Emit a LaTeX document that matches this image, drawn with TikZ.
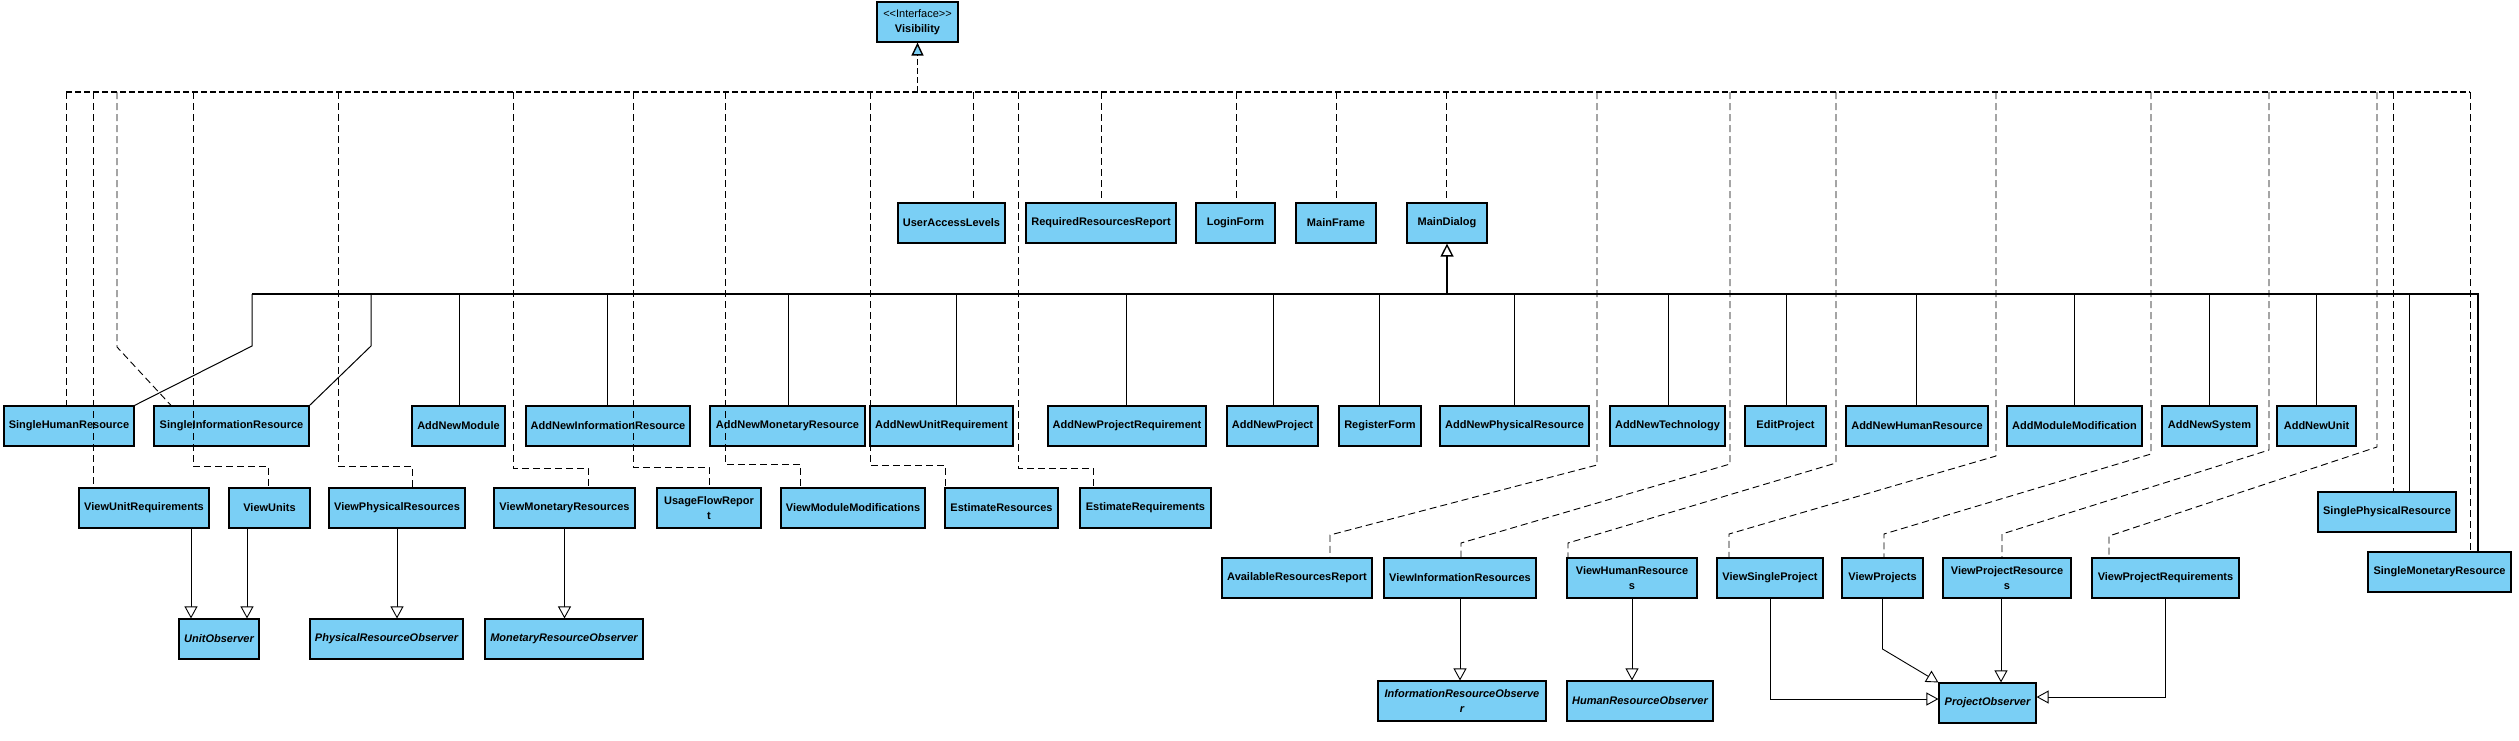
\documentclass[tikz,border=0pt]{standalone}
\usepackage{fontspec}
\setmainfont{Liberation Sans}
\usetikzlibrary{arrows.meta}
\definecolor{clsblue}{RGB}{122,207,245}
\tikzset{
    cls/.style={draw, fill=clsblue, line width=1.2pt, inner sep=1pt, minimum height=40pt,
        align=center, font=\bfseries\fontsize{11}{15.5}\selectfont},
    abscls/.style={cls, font=\bfseries\itshape\fontsize{11}{15.5}\selectfont},
    real/.style={line width=0.9pt, dash pattern=on 7pt off 4pt},
    gen/.style={line width=0.9pt, -{Triangle[length=12pt, width=13pt, fill=white]}},
}

\begin{document}
\begin{tikzpicture}[>=Stealth, x=1pt, y=-1pt]
        \useasboundingbox (0,0) rectangle (2519,740);
        \node[cls, minimum width=81pt] (vis) at (917.5,22) {\mdseries <{}<Interface>{}>\\\bfseries Visibility};
        % row 1
        \foreach \n/\x/\w/\t in {ual/951.5/107/UserAccessLevels, rrr/1101/150/RequiredResourcesReport,
                login/1235.5/79/LoginForm, mframe/1336/80/MainFrame, mdialog/1447/80/MainDialog}{
            \node[cls, minimum width=\w pt] (\n) at (\x,223) {\t};
        }
        % row 2, all of them under MainDialog
        \foreach \n/\x/\w/\t in {shr/69/130/SingleHumanResource, sir/231.5/155/SingleInformationResource,
                anm/458.5/93/AddNewModule, anir/608/164/AddNewInformationResource,
                anmr/787.5/155/AddNewMonetaryResource, anur/941.5/143/AddNewUnitRequirement,
                anpr/1127/158/AddNewProjectRequirement, anp/1272.5/91/AddNewProject,
                reg/1380/82/RegisterForm, anphr/1514.5/149/AddNewPhysicalResource,
                ant/1667.5/115/AddNewTechnology, edit/1785.5/81/EditProject,
                anhr/1917/142/AddNewHumanResource, amm/2074.5/135/AddModuleModification,
                ans/2209.5/95/AddNewSystem, anu/2316.5/79/AddNewUnit}{
            \node[cls, minimum width=\w pt] (\n) at (\x,426) {\t};
        }
        % row 3
        \foreach \n/\x/\w/\t in {vur/144/130/ViewUnitRequirements, vu/269.5/81/ViewUnits,
                vphr/397/136/ViewPhysicalResources, vmr/564.5/141/ViewMonetaryResources,
                ufr/709/104/{UsageFlowRepor\\t}, vmm/853/144/ViewModuleModifications,
                estres/1001.5/113/EstimateResources, estreq/1145.5/131/EstimateRequirements}{
            \node[cls, minimum width=\w pt] (\n) at (\x,508) {\t};
        }
        % row 4
        \foreach \n/\x/\w/\t in {arr/1297/150/AvailableResourcesReport, vir/1460/152/ViewInformationResources,
                vhr/1632/130/{ViewHumanResource\\s}, vsp/1770/106/ViewSingleProject,
                vp/1882.5/81/ViewProjects, vpres/2007/128/{ViewProjectResource\\s},
                vpreq/2165.5/147/ViewProjectRequirements}{
            \node[cls, minimum width=\w pt] (\n) at (\x,578) {\t};
        }
        \node[cls, minimum width=138pt] (spr) at (2387,512) {SinglePhysicalResource};
        \node[cls, minimum width=143pt] (smr) at (2439.5,572) {SingleMonetaryResource};
        % observers
        \node[abscls, minimum width=80pt] (uobs) at (219,639) {UnitObserver};
        \node[abscls, minimum width=153pt] (pro) at (386.5,639) {PhysicalResourceObserver};
        \node[abscls, minimum width=158pt] (mro) at (564,639) {MonetaryResourceObserver};
        \node[abscls, minimum width=168pt] (iro) at (1462,701) {InformationResourceObserve\\r};
        \node[abscls, minimum width=146pt] (hro) at (1640,701) {HumanResourceObserver};
        \node[abscls, minimum width=97pt] (pobs) at (1987.5,703) {ProjectObserver};

        % realization of Visibility
        \coordinate (rbus) at (66,92);
        \draw[line width=2pt, dash pattern=on 6pt off 3pt] (rbus) -- (2470,0 |- rbus);
        \draw[line width=1.4pt, dash pattern=on 6pt off 3pt, -{Triangle[length=13pt, width=12pt, fill=clsblue]}]
            (vis.south |- rbus) -- (vis.south);
        \foreach \x/\n in {66/shr, 93/vur, 973/ual, 1101/rrr, 1236/login, 1336/mframe, 1446/mdialog, 2393/spr, 2470/smr}{
            \draw[real] (\x,0 |- rbus) -- (\x,0 |- \n.north);
        }
        \draw[real] (117,0 |- rbus) -- (117,347) -- (sir.north -| 171,0);
        \foreach \x/\y/\xb/\n in {193/466/268/vu, 338/466/412/vphr, 513/468/588/vmr, 633/467/709/ufr,
                725/464/800/vmm, 870/465/945/estres, 1018/468/1093/estreq}{
            \draw[real] (\x,0 |- rbus) |- (\xb,\y) -- (\xb,0 |- \n.north);
        }
        \foreach \x/\ya/\xb/\yb/\n in {1597/465/1330/535/arr, 1730/464/1461/543/vir, 1836/463/1568/543/vhr,
                1996/456/1729/534/vsp, 2151/454/1884/534/vp, 2269/450/2002/534/vpres, 2377/447/2109/536/vpreq}{
            \draw[real] (\x,0 |- rbus) -- (\x,\ya) -- (\xb,\yb) -- (\xb,0 |- \n.north);
        }

        % generalization of MainDialog
        \coordinate (gbus) at (252,294);
        \draw[line width=1.2pt] (gbus) -- (2478,0 |- gbus) -- (2478,0 |- smr.north);
        \draw[line width=2.2pt, -{Triangle[length=13pt, width=13pt, fill=white, line width=1.4pt]}]
            (mdialog.south |- gbus) -- (mdialog.south);
        \draw[line width=1pt] (gbus) -- (252,346) -- (shr.north east);
        \draw[line width=1pt] (371,0 |- gbus) -- (371,346) -- (sir.north east);
        \foreach \x/\n in {459/anm, 607/anir, 788/anmr, 956/anur, 1126/anpr, 1273/anp, 1379/reg, 1514/anphr,
                1668/ant, 1786/edit, 1916/anhr, 2074/amm, 2209/ans, 2316/anu, 2409/spr}{
            \draw[line width=1pt] (\x,0 |- gbus) -- (\x,0 |- \n.north);
        }

        % observers
        \draw[gen] (vur.south -| 191,0) -- (uobs.north -| 191,0);
        \draw[gen] (vu.south -| 247,0) -- (uobs.north -| 247,0);
        \draw[gen] (vphr.south) -- (vphr.south |- pro.north);
        \draw[gen] (vmr.south) -- (vmr.south |- mro.north);
        \draw[gen] (vir.south) -- (vir.south |- iro.north);
        \draw[gen] (vhr.south) -- (vhr.south |- hro.north);
        \draw[gen] (vsp.south) |- (pobs.west |- 0,699);
        \draw[gen] (vp.south) -- (vp.south |- 0,649) -- (pobs.north west);
        \draw[gen] (vpres.south -| 2001,0) -- (pobs.north -| 2001,0);
        \draw[gen] (vpreq.south) |- (pobs.east |- 0,697);
    \end{tikzpicture}
\end{document}
